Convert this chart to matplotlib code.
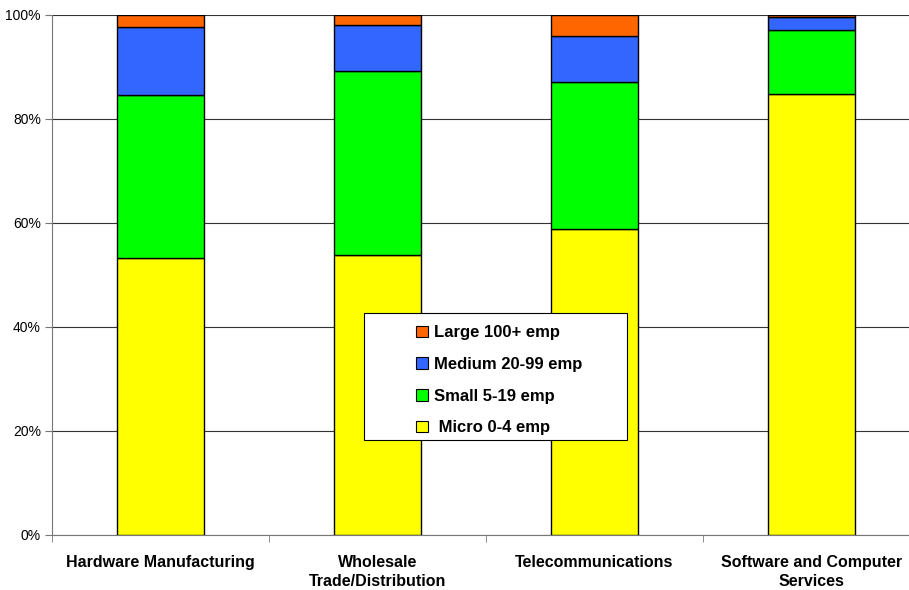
import matplotlib
matplotlib.use("Agg")
import matplotlib.pyplot as plt
from matplotlib.patches import Rectangle, Patch
import numpy as np

categories = ["Hardware Manufacturing", "Wholesale\nTrade/Distribution",
              "Telecommunications", "Software and Computer\nServices"]
micro = [53.3, 53.9, 58.8, 84.8]
small = [31.4, 35.3, 28.3, 12.3]
medium = [12.9, 8.8, 8.9, 2.5]
large = [2.4, 2.0, 4.0, 0.4]
series_names = ["Large 100+ emp", "Medium 20-99 emp", "Small 5-19 emp", " Micro 0-4 emp"]
colors = {"micro": "#FFFF00", "small": "#00FF00", "medium": "#3366FF", "large": "#FF6600"}
yticks = [0, 20, 40, 60, 80, 100]
ytick_labels = ["0%", "20%", "40%", "60%", "80%", "100%"]

plt.rcParams['font.family'] = ['Liberation Sans', 'DejaVu Sans']

W, H = 909, 590
fig = plt.figure(figsize=(W / 100, H / 100), dpi=100)
ax = fig.add_axes([52 / W, (H - 535) / H, 868 / W, 520 / H])

x = np.arange(len(categories))
bw = 0.40
bottom = np.zeros(len(categories))
for key, vals in [("micro", micro), ("small", small), ("medium", medium), ("large", large)]:
    ax.bar(x, vals, bw, bottom=bottom, color=colors[key], edgecolor="black", linewidth=1.0, zorder=3)
    bottom += np.array(vals)

ax.set_xlim(-0.5, len(categories) - 0.5)
ax.set_ylim(0, 100)
ax.set_yticks(yticks)
ax.set_yticklabels(ytick_labels, fontsize=10)
ax.yaxis.grid(True, color="#333333", linewidth=0.8, zorder=0)
ax.set_axisbelow(True)

ax.set_xticks(x)
ax.set_xticklabels(categories, fontsize=11.5, fontweight="bold", linespacing=1.32)
ax.set_xticks(np.arange(len(categories) + 1) - 0.5, minor=True)
ax.tick_params(axis="x", which="major", length=0, pad=14.5)
ax.tick_params(axis="x", which="minor", length=5, color="#777777")
ax.tick_params(axis="y", length=5, color="#777777", pad=3)

for s in ["top", "right"]:
    ax.spines[s].set_visible(False)
ax.spines["left"].set_color("#777777")
ax.spines["bottom"].set_color("#777777")

# legend frame
fig.patches.append(Rectangle((364 / W, (H - 440) / H), (627 - 364) / W, (440 - 313) / H,
                             transform=fig.transFigure, facecolor="white", edgecolor="black",
                             linewidth=0.8, zorder=5))
handles = [Patch(facecolor=colors[k], edgecolor="black", linewidth=0.8)
           for k in ["large", "medium", "small", "micro"]]
leg = fig.legend(handles, series_names, loc="upper left",
                 bbox_to_anchor=(403 / W, (H - 312) / H), frameon=False,
                 prop={"size": 12, "weight": "bold"}, handlelength=0.7, handleheight=0.7,
                 handletextpad=0.35, labelspacing=1.0, borderpad=0.3)
leg.set_zorder(6)

fig.savefig("out.png", dpi=100)
